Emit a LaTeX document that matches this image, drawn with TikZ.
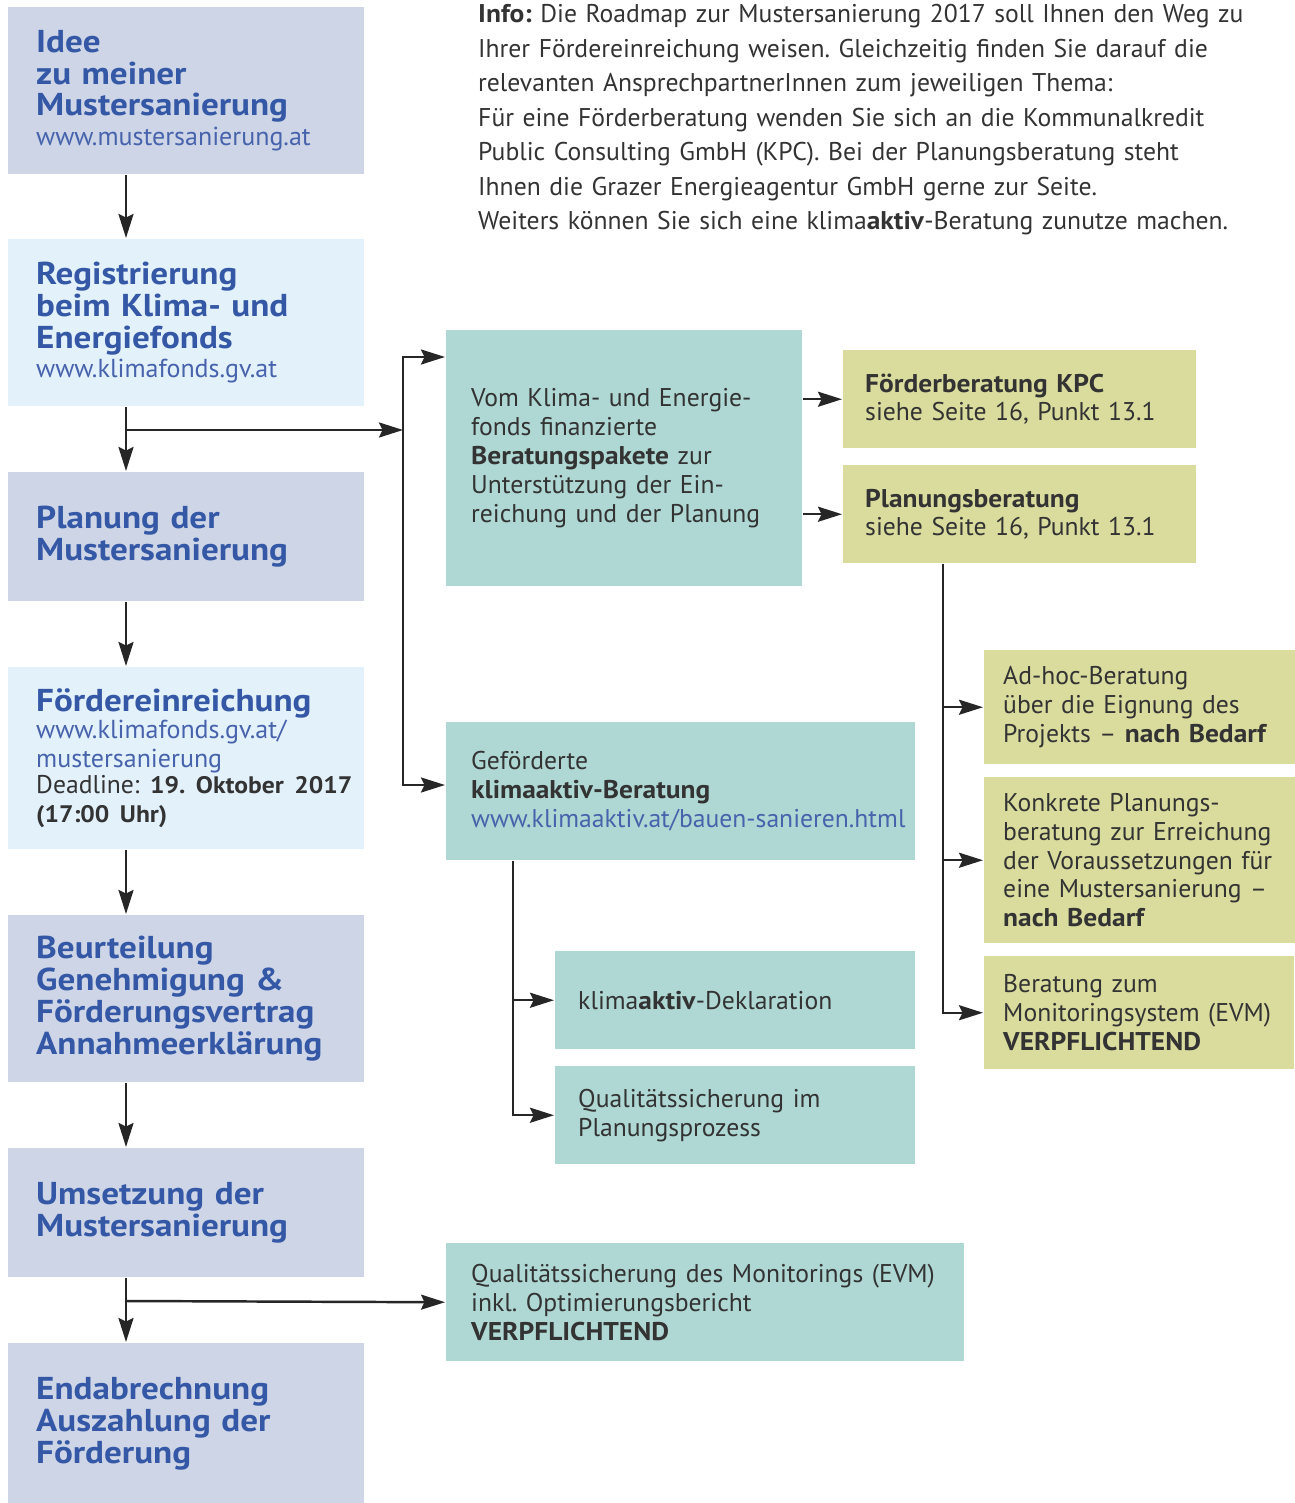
\documentclass[tikz,border=0pt]{standalone}
\usepackage{fontspec}
\setmainfont{PT Sans}[BoldFeatures={FakeStretch=1.07}]
\newfontfamily\stagefamily{PT Sans}[BoldFeatures={FakeStretch=1.11}]
\usepackage{tikz}
\usetikzlibrary{arrows,arrows.meta}
\frenchspacing
\lineskiplimit=-20pt

\definecolor{stageblue}{HTML}{CDD5E7}
\definecolor{regblue}{HTML}{E3F1FB}
\definecolor{paketteal}{HTML}{AFD8D4}
\definecolor{kpcolive}{HTML}{DADC9E}
\definecolor{titleblue}{HTML}{3458A5}
\definecolor{linkblue}{HTML}{4763AC}
\definecolor{inkgray}{HTML}{333333}
\definecolor{linegray}{HTML}{262626}

\newcommand{\stagefont}{\stagefamily\fontsize{18}{18.1}\selectfont\bfseries\color{titleblue}}
\newcommand{\linkfont}{\rmfamily\fontsize{14.8}{16.4}\selectfont\mdseries\color{linkblue}}
\newcommand{\bodyfont}{\fontsize{14.6}{16.4}\selectfont\color{inkgray}}
\newcommand{\infofont}{\fontsize{14.6}{19.6}\selectfont\color{inkgray}}

\begin{document}
\begin{tikzpicture}[x=0.02cm,y=-0.02cm,line width=1.4pt,
	box/.style n args={3}{fill=#1,minimum width=#2*\px,minimum height=#3*\px,anchor=north west,inner sep=0},
	txt/.style={anchor=west,align=left,text width=12cm,inner sep=0,font=\bodyfont},
	stage/.style={txt,font=\stagefont},
	arr/.style={draw=linegray,-{Stealth[length=4.8mm,width=3mm,inset=0.7mm]}}]
	\def\px{0.02cm} %one pixel of the reference
	\useasboundingbox (0,0) rectangle (1294,1503);
	
	%INFO
	\node[anchor=base west,align=left,text width=16cm,inner sep=0,font=\infofont] (info) at (477,23) {%
		\textbf{Info:} Die Roadmap zur Mustersanierung 2017 soll Ihnen den Weg zu\\
		Ihrer Fördereinreichung weisen. Gleichzeitig finden Sie darauf die\\
		relevanten AnsprechpartnerInnen zum jeweiligen Thema:\\
		Für eine Förderberatung wenden Sie sich an die Kommunalkredit\\
		Public Consulting GmbH (KPC). Bei der Planungsberatung steht\\
		Ihnen die Grazer Energieagentur GmbH gerne zur Seite.\\
		Weiters können Sie sich eine klima\textbf{aktiv}-Beratung zunutze machen.};
	
	%MAIN STAGES
	\node[box={stageblue}{356}{167}] (idee)   at (7,6) {};
	\node[box={regblue}{356}{167}]   (reg)    at (7,238) {};
	\node[box={stageblue}{356}{129}] (plan)   at (7,471) {};
	\node[box={regblue}{356}{182}]   (foerd)  at (7,666) {};
	\node[box={stageblue}{356}{167}] (beurt)  at (7,914) {};
	\node[box={stageblue}{356}{129}] (umsetz) at (7,1147) {};
	\node[box={stageblue}{356}{161}] (endabr) at (7,1342) {};
	%
	\node[stage] (idee-t) at ([xshift=28*\px]idee.west) {Idee\\zu meiner\\Mustersanierung\\[-1.1pt]
		{\linkfont www.mustersanierung.at}};
	\node[stage] (reg-t) at ([xshift=28*\px]reg.west) {Registrierung\\beim Klima- und\\Energiefonds\\[-1.1pt]
		{\linkfont www.klimafonds.gv.at}};
	\node[stage] (plan-t) at ([xshift=28*\px]plan.west) {Planung der\\Mustersanierung};
	\node[stage] (foerd-t) at ([xshift=28*\px]foerd.west) {Fördereinreichung\\[-1.1pt]
		{\linkfont www.klimafonds.gv.at/\\[-1.7pt]mustersanierung}\\[-1.7pt]
		{\rmfamily\bodyfont\mdseries Deadline: {\fontsize{13.6}{16.4}\selectfont\bfseries 19. Oktober 2017\\[-1.7pt](17:00 Uhr)}}};
	\node[stage] (beurt-t) at ([xshift=28*\px]beurt.west) {Beurteilung\\Genehmigung \&\\Förderungsvertrag\\Annahmeerklärung};
	\node[stage] (umsetz-t) at ([xshift=28*\px]umsetz.west) {Umsetzung der\\Mustersanierung};
	\node[stage] (endabr-t) at ([xshift=28*\px]endabr.west) {Endabrechnung\\Auszahlung der\\Förderung};
	
	%CONSULTING BOXES
	\node[box={paketteal}{356}{256}] (paket)   at (445,329) {};
	\node[box={kpcolive}{353}{98}]   (kpc)     at (842,349) {};
	\node[box={kpcolive}{353}{98}]   (planb)   at (842,464) {};
	\node[box={paketteal}{469}{138}] (ka)      at (445,721) {};
	\node[box={kpcolive}{311}{114}]  (adhoc)   at (983,649) {};
	\node[box={kpcolive}{311}{166}]  (konkret) at (983,776) {};
	\node[box={kpcolive}{310}{113}]  (evm)     at (983,955) {};
	\node[box={paketteal}{360}{98}]  (dekl)    at (554,950) {};
	\node[box={paketteal}{360}{98}]  (qsplan)  at (554,1065) {};
	\node[box={paketteal}{518}{118}] (qsmon)   at (445,1242) {};
	%
	\node[txt] (paket-t) at ([xshift=25*\px]paket.west) {Vom Klima- und Energie-\\fonds finanzierte\\
		\textbf{Beratungspakete} zur\\Unterstützung der Ein-\\reichung und der Planung};
	\node[txt] (kpc-t) at ([xshift=22*\px]kpc.west) {\textbf{Förderberatung KPC}\\siehe Seite 16, Punkt 13.1};
	\node[txt] (planb-t) at ([xshift=22*\px]planb.west) {\textbf{Planungsberatung}\\siehe Seite 16, Punkt 13.1};
	\node[txt] (ka-t) at ([xshift=25*\px]ka.west) {Geförderte\\\textbf{klimaaktiv-Beratung}\\
		{\color{linkblue}www.klimaaktiv.at/bauen-sanieren.html}};
	\node[txt] (adhoc-t) at ([xshift=19*\px]adhoc.west) {Ad-hoc-Beratung\\über die Eignung des\\Projekts -- \textbf{nach Bedarf}};
	\node[txt] (konkret-t) at ([xshift=19*\px]konkret.west) {Konkrete Planungs-\\beratung zur Erreichung\\
		der Voraussetzungen für\\eine Mustersanierung --\\\textbf{nach Bedarf}};
	\node[txt] (evm-t) at ([xshift=19*\px]evm.west) {Beratung zum\\Monitoringsystem (EVM)\\\textbf{VERPFLICHTEND}};
	\node[txt] (dekl-t) at ([xshift=23*\px]dekl.west) {klima\textbf{aktiv}-Deklaration};
	\node[txt] (qsplan-t) at ([xshift=23*\px]qsplan.west) {Qualitätssicherung im\\Planungsprozess};
	\node[txt] (qsmon-t) at ([xshift=25*\px]qsmon.west) {Qualitätssicherung des Monitorings (EVM)\\
		inkl. Optimierungsbericht\\\textbf{VERPFLICHTEND}};
	
	%CONNECTORS
	\coordinate (spine) at (126,0);
	\coordinate (fork-reg) at (126,430);	\coordinate (bus-reg) at (403,430);
	\coordinate (bus-top) at (403,357);	\coordinate (bus-bot) at (403,785);
	\coordinate (fork-mon) at (126,1301);
	\coordinate (rbus) at (943,0);		\coordinate (kbus) at (513,0);
	%
	\foreach \a/\b in {idee/reg,reg/plan,plan/foerd,foerd/beurt,beurt/umsetz,umsetz/endabr}
		\draw[arr] (\a.south -| spine) -- (\b.north -| spine);
	%
	\draw[arr] (fork-reg) -- (bus-reg);
	\draw[arr] (bus-bot) -- (bus-top) -- (bus-top -| paket.west);
	\draw[arr] (bus-top) -- (bus-bot) -- (bus-bot -| ka.west);
	\draw[arr] (fork-mon) -- (qsmon.west);
	%
	\draw[arr] (paket.east |- kpc.west) -- (kpc.west);
	\draw[arr] (paket.east |- planb.west) -- (planb.west);
	%
	\draw[arr] (planb.south -| rbus) -- (rbus |- evm.west) -- (evm.west);
	\draw[arr] (rbus |- adhoc.west) -- (adhoc.west);
	\draw[arr] (rbus |- konkret.west) -- (konkret.west);
	%
	\draw[arr] (ka.south -| kbus) -- (kbus |- qsplan.west) -- (qsplan.west);
	\draw[arr] (kbus |- dekl.west) -- (dekl.west);
\end{tikzpicture}
\end{document}
